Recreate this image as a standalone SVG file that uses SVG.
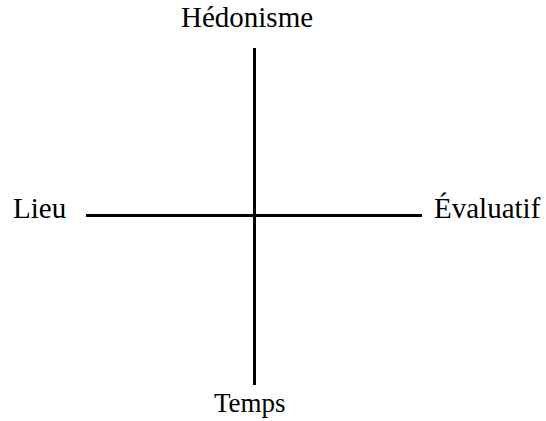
<svg xmlns="http://www.w3.org/2000/svg" width="546" height="421" viewBox="0 0 546 421">
<style>
text{font-family:"Liberation Serif","Times New Roman",serif;font-size:29px;fill:#000}
.ax{stroke:#000;stroke-width:3;fill:none}
</style>
<rect width="546" height="421" fill="#fff"/>
<g id="connectors">
<line class="ax" x1="254.5" y1="48" x2="254.5" y2="385"/>
<line class="ax" x1="86" y1="215.5" x2="422" y2="215.5"/>
</g>
<g id="hedonisme"><text x="181" y="27">Hédonisme</text></g>
<g id="lieu"><text x="13" y="218">Lieu</text></g>
<g id="evaluatif"><text x="434" y="218">Évaluatif</text></g>
<g id="temps"><text x="214" y="412" style="font-size:27px">Temps</text></g>
</svg>
